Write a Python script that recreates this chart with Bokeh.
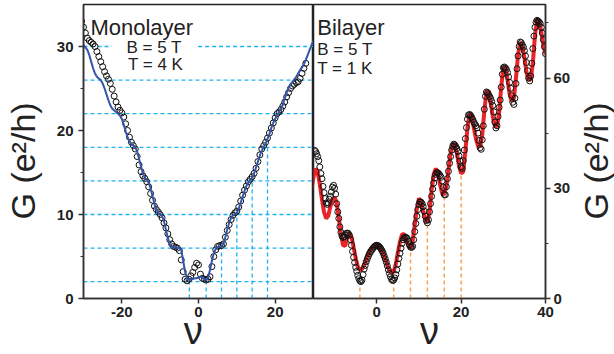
import math
from bokeh.plotting import figure
from bokeh.layouts import row
from bokeh.models import Label, Range1d, FixedTicker
from bokeh.embed import file_html
from bokeh.resources import INLINE

# ---------------- Monolayer data ----------------
mono_nu = [-30.5, -30.0, -29.5, -29.0, -28.5, -28.0, -27.5, -27.0, -26.5, -26.0,
           -25.5, -25.0, -24.5, -24.0, -23.5, -23.0, -22.5, -22.0, -21.5, -21.0,
           -20.5, -20.0, -19.5, -19.0, -18.5, -18.0, -17.5, -17.0, -16.5, -16.0,
           -15.5, -15.0, -14.5, -14.0, -13.5, -13.0, -12.5, -12.0, -11.5, -11.0,
           -10.5, -10.0, -9.5, -9.0, -8.5, -8.0, -7.5, -7.0, -6.5, -6.0,
           -5.5, -5.0, -4.5, -4.0, -3.5, -3.0, -2.5, -2.0, -1.5, -1.0,
           -0.5, 0.0, 0.5, 1.0, 1.5, 2.0, 2.5, 3.0, 3.5, 4.0,
           4.5, 5.0, 5.5, 6.0, 6.5, 7.0, 7.5, 8.0, 8.5, 9.0,
           9.5, 10.0, 10.5, 11.0, 11.5, 12.0, 12.5, 13.0, 13.5, 14.0,
           14.5, 15.0, 15.5, 16.0, 16.5, 17.0, 17.5, 18.0, 18.5, 19.0,
           19.5, 20.0, 20.5, 21.0, 21.5, 22.0, 22.5, 23.0, 23.5, 24.0,
           24.5, 25.0, 25.5, 26.0, 26.5, 27.0, 27.5, 28.0]
mono_G = [33.0, 32.3, 31.6, 31.0, 30.7, 30.5, 30.3, 30.0, 29.4, 28.8,
          28.2, 27.6, 27.0, 26.5, 26.1, 25.6, 24.9, 24.1, 23.4, 22.8,
          22.4, 22.1, 21.6, 20.8, 20.0, 19.2, 18.6, 18.2, 17.8, 16.9,
          15.9, 15.1, 14.6, 14.3, 13.9, 13.3, 12.5, 11.7, 11.0, 10.6,
          10.3, 10.0, 9.6, 9.0, 8.4, 7.7, 7.0, 6.5, 6.2, 6.1,
          6.0, 5.7, 4.6, 3.2, 2.3, 2.1, 2.3, 2.7, 3.1, 3.7,
          4.2, 4.0, 2.9, 2.4, 2.3, 2.2, 2.3, 2.6, 3.8, 5.0,
          5.8, 6.2, 6.3, 6.3, 6.5, 7.3, 8.1, 8.8, 9.4, 9.9,
          10.2, 10.4, 10.9, 11.6, 12.3, 12.9, 13.4, 13.9, 14.2, 14.5,
          14.9, 15.5, 16.3, 17.1, 17.8, 18.2, 18.6, 19.1, 19.7, 20.3,
          20.9, 21.5, 22.0, 22.2, 22.5, 22.9, 23.4, 24.0, 24.5, 25.0,
          25.3, 25.5, 25.7, 25.8, 26.2, 26.8, 27.4, 28.0]

mono_fit_nu = [-30.5, -30.0, -29.5, -29.0, -28.5, -28.0, -27.5, -27.0, -26.5, -26.0,
               -25.5, -25.0, -24.5, -24.0, -23.5, -23.0, -22.5, -22.0, -21.5, -21.0,
               -20.5, -20.0, -19.5, -19.0, -18.5, -18.0, -17.5, -17.0, -16.5, -16.0,
               -15.5, -15.0, -14.5, -14.0, -13.5, -13.0, -12.5, -12.0, -11.5, -11.0,
               -10.5, -10.0, -9.5, -9.0, -8.5, -8.0, -7.5, -7.0, -6.5, -6.0,
               -5.5, -5.0, -4.5, -4.0, -3.5, -3.0, -2.5, -2.0, -1.5, -1.0,
               -0.5, 0.0, 0.5, 1.0, 1.5, 2.0, 2.5, 3.0, 3.5, 4.0,
               4.5, 5.0, 5.5, 6.0, 6.5, 7.0, 7.5, 8.0, 8.5, 9.0,
               9.5, 10.0, 10.5, 11.0, 11.5, 12.0, 12.5, 13.0, 13.5, 14.0,
               14.5, 15.0, 15.5, 16.0, 16.5, 17.0, 17.5, 18.0, 18.5, 19.0,
               19.5, 20.0, 20.5, 21.0, 21.5, 22.0, 22.5, 23.0, 23.5, 24.0,
               24.5, 25.0, 25.5, 26.0, 26.5, 27.0, 27.5, 28.0, 28.5, 29.0,
               29.5, 30.0]
mono_fit_G = [30.5, 30.2, 29.9, 29.6, 29.0, 28.2, 27.4, 26.8, 26.4, 26.2,
              26.0, 25.6, 25.0, 24.3, 23.6, 23.0, 22.6, 22.4, 22.2, 22.0,
              21.8, 21.4, 20.7, 19.9, 19.2, 18.7, 18.4, 18.2, 18.0, 17.5,
              16.6, 15.7, 14.9, 14.4, 14.1, 13.8, 13.1, 12.2, 11.3, 10.6,
              10.2, 10.0, 9.8, 9.2, 8.2, 7.2, 6.5, 6.2, 6.1, 6.1,
              6.0, 6.0, 5.8, 4.5, 3.2, 2.4, 2.2, 2.3, 2.3, 2.4,
              2.4, 2.5, 2.6, 2.5, 2.3, 2.2, 2.5, 3.4, 4.5, 5.4,
              5.9, 6.1, 6.2, 6.2, 6.5, 7.3, 8.2, 9.0, 9.6, 9.9,
              10.1, 10.2, 10.7, 11.4, 12.1, 12.8, 13.4, 13.8, 14.1, 14.4,
              14.9, 15.6, 16.3, 17.0, 17.6, 18.0, 18.4, 19.0, 19.6, 20.3,
              20.9, 21.4, 21.8, 22.2, 22.6, 23.1, 23.8, 24.5, 25.1, 25.5,
              25.8, 26.1, 26.4, 26.8, 27.2, 27.5, 27.9, 28.4, 29.0, 29.6,
              30.2, 30.7]

# reference lines (monolayer)
mono_h_level = [2, 6, 10, 14, 18, 22, 26, 30, 30]
mono_h_from = [-30, -30, -30, -30, -30, -30, -30, -30, -0.1]
mono_h_to = [30, 30, 30, 30, 30, 30, 30, -22.6, 30]
mono_v_nu = [-2.4, 2, 6, 10, 14, 18]
mono_v_top = [2, 2, 6, 10, 14, 18]

# ---------------- Bilayer data ----------------
bi_nu = [-14.75, -14.5, -14.25, -14.0, -13.75, -13.5, -13.25, -13.0, -12.75, -12.5,
         -12.25, -12.0, -11.75, -11.5, -11.25, -11.0, -10.75, -10.5, -10.25, -10.0,
         -9.75, -9.5, -9.25, -9.0, -8.75, -8.5, -8.25, -8.0, -7.75, -7.5,
         -7.25, -7.0, -6.75, -6.5, -6.25, -6.0, -5.75, -5.5, -5.25, -5.0,
         -4.75, -4.5, -4.25, -4.0, -3.75, -3.5, -3.25, -3.0, -2.75, -2.5,
         -2.25, -2.0, -1.75, -1.5, -1.25, -1.0, -0.75, -0.5, -0.25, 0.0,
         0.25, 0.5, 0.75, 1.0, 1.25, 1.5, 1.75, 2.0, 2.25, 2.5,
         2.75, 3.0, 3.25, 3.5, 3.75, 4.0, 4.25, 4.5, 4.75, 5.0,
         5.25, 5.5, 5.75, 6.0, 6.25, 6.5, 6.75, 7.0, 7.25, 7.5,
         7.75, 8.0, 8.25, 8.5, 8.75, 9.0, 9.25, 9.5, 9.75, 10.0,
         10.25, 10.5, 10.75, 11.0, 11.25, 11.5, 11.75, 12.0, 12.25, 12.5,
         12.75, 13.0, 13.25, 13.5, 13.75, 14.0, 14.25, 14.5, 14.75, 15.0,
         15.25, 15.5, 15.75, 16.0, 16.25, 16.5, 16.75, 17.0, 17.25, 17.5,
         17.75, 18.0, 18.25, 18.5, 18.75, 19.0, 19.25, 19.5, 19.75, 20.0,
         20.25, 20.5, 20.75, 21.0, 21.25, 21.5, 21.75, 22.0, 22.25, 22.5,
         22.75, 23.0, 23.25, 23.5, 23.75, 24.0, 24.25, 24.5, 24.75, 25.0,
         25.25, 25.5, 25.75, 26.0, 26.25, 26.5, 26.75, 27.0, 27.25, 27.5,
         27.75, 28.0, 28.25, 28.5, 28.75, 29.0, 29.25, 29.5, 29.75, 30.0,
         30.25, 30.5, 30.75, 31.0, 31.25, 31.5, 31.75, 32.0, 32.25, 32.5,
         32.75, 33.0, 33.25, 33.5, 33.75, 34.0, 34.25, 34.5, 34.75, 35.0,
         35.25, 35.5, 35.75, 36.0, 36.25, 36.5, 36.75, 37.0, 37.25, 37.5,
         37.75, 38.0, 38.25, 38.5, 38.75, 39.0, 39.25, 39.5, 39.75, 40.0]
bi_G = [40.3, 40.0, 39.4, 38.6, 37.5, 35.8, 34.0, 32.6, 30.5, 28.8,
        27.2, 26.0, 25.6, 26.0, 27.0, 27.8, 29.0, 30.3, 30.8, 30.0,
        28.4, 25.8, 23.6, 21.8, 19.5, 18.0, 17.0, 16.6, 16.8, 17.3,
        17.7, 17.8, 17.7, 17.2, 16.0, 14.5, 12.8, 11.2, 9.8, 8.5,
        7.4, 6.3, 5.4, 4.8, 4.6, 5.0, 6.5, 8.0, 9.0, 10.0,
        10.8, 11.5, 12.2, 12.7, 13.1, 13.5, 13.9, 14.2, 14.4, 14.5,
        14.4, 14.2, 13.9, 13.5, 13.0, 12.4, 11.6, 10.8, 9.9, 8.9,
        7.8, 6.8, 5.9, 5.2, 4.9, 5.0, 5.6, 6.5, 7.8, 9.4,
        10.9, 12.3, 13.7, 15.0, 16.0, 16.5, 16.7, 16.6, 16.3, 15.6,
        14.6, 14.0, 13.9, 14.2, 16.0, 18.2, 20.4, 22.4, 24.2, 25.6,
        26.3, 26.2, 25.8, 25.0, 23.8, 22.4, 21.2, 20.6, 21.4, 23.6,
        25.8, 27.8, 29.8, 31.4, 32.8, 33.8, 34.3, 34.2, 33.9, 33.5,
        33.0, 32.0, 30.2, 28.3, 28.2, 30.4, 32.6, 34.6, 36.8, 38.6,
        40.4, 41.4, 42.0, 41.8, 41.3, 40.8, 40.0, 38.8, 37.4, 35.8,
        35.4, 37.5, 40.4, 43.5, 46.5, 48.8, 49.9, 50.1, 49.8, 49.3,
        48.7, 48.0, 47.5, 47.0, 46.4, 45.0, 43.0, 41.0, 40.6, 43.2,
        47.0, 51.5, 55.0, 56.2, 56.0, 55.5, 55.0, 54.4, 53.6, 52.5,
        50.8, 48.0, 46.4, 47.0, 49.5, 52.0, 54.0, 57.5, 61.0, 62.8,
        63.0, 62.7, 62.3, 61.5, 60.3, 58.8, 57.2, 55.2, 53.4, 52.8,
        54.5, 58.5, 62.5, 66.0, 68.6, 69.8, 69.6, 69.0, 68.4, 67.4,
        66.0, 64.2, 62.0, 60.0, 59.2, 60.5, 64.0, 68.0, 71.4, 73.8,
        75.2, 75.7, 75.5, 75.2, 74.8, 73.8, 72.2, 70.4, 68.5, 66.6]

bi_fit_nu = [-15.5, -15.0, -14.5, -14.0, -13.5, -13.0, -12.5, -12.0, -11.5, -11.0,
             -10.5, -10.0, -9.5, -9.0, -8.5, -8.0, -7.5, -7.0, -6.5, -6.0,
             -5.5, -5.0, -4.5, -4.0, -3.5, -3.0, -2.5, -2.0, -1.5, -1.0,
             -0.5, 0.0, 0.5, 1.0, 1.5, 2.0, 2.5, 3.0, 3.5, 4.0,
             4.5, 5.0, 5.5, 6.0, 6.5, 7.0, 7.5, 8.0, 8.5, 9.0,
             9.5, 10.0, 10.5, 11.0, 11.5, 12.0, 12.5, 13.0, 13.5, 14.0,
             14.5, 15.0, 15.5, 16.0, 16.5, 17.0, 17.5, 18.0, 18.5, 19.0,
             19.5, 20.0, 20.5, 21.0, 21.5, 22.0, 22.5, 23.0, 23.5, 24.0,
             24.5, 25.0, 25.5, 26.0, 26.5, 27.0, 27.5, 28.0, 28.5, 29.0,
             29.5, 30.0, 30.5, 31.0, 31.5, 32.0, 32.5, 33.0, 33.5, 34.0,
             34.5, 35.0, 35.5, 36.0, 36.5, 37.0, 37.5, 38.0, 38.5, 39.0,
             39.5, 40.0]
bi_fit_G = [29.5, 33.0, 35.3, 34.5, 31.0, 27.0, 23.5, 21.8, 22.5, 25.0,
            27.0, 27.6, 26.0, 22.0, 17.5, 14.5, 14.3, 16.5, 17.7, 16.8,
            14.0, 11.0, 8.6, 7.7, 8.0, 9.2, 10.6, 12.0, 13.2, 14.0,
            14.4, 14.5, 14.3, 13.6, 12.4, 10.8, 9.0, 7.6, 6.9, 7.3,
            9.3, 12.5, 15.5, 17.5, 17.5, 16.0, 14.3, 13.6, 15.5, 20.0,
            24.5, 27.2, 26.5, 23.8, 21.5, 20.8, 23.5, 29.5, 33.8, 35.4,
            34.0, 31.0, 28.6, 28.3, 30.5, 35.0, 39.5, 42.0, 42.0, 39.5,
            36.0, 34.0, 34.5, 40.0, 46.5, 50.3, 49.5, 46.5, 43.5, 41.5,
            41.2, 44.5, 51.0, 56.3, 56.5, 53.5, 49.5, 47.0, 46.8, 50.5,
            57.5, 63.0, 62.8, 59.5, 55.5, 53.6, 54.5, 60.0, 66.5, 69.8,
            68.8, 65.5, 61.5, 59.5, 59.6, 64.0, 71.5, 76.0, 75.5, 72.5,
            69.0, 66.5]

bi_v_nu = [-4, 4, 8, 12, 16, 20]
bi_v_top = [4.5, 5.4, 12.7, 20.8, 28.1, 34.4]

FONT = "Liberation Sans"
INK = "#222222"
G_LABEL = "G (e²/h)\u00a0\u00a0"


def style_axis(ax):
    ax.major_label_text_font = FONT
    ax.major_label_text_font_style = "bold"
    ax.major_label_text_font_size = "15px"
    ax.major_label_text_color = INK
    ax.axis_line_color = "#333333"
    ax.axis_line_width = 1.5
    ax.major_tick_line_color = "#333333"
    ax.major_tick_line_width = 1.5
    ax.minor_tick_line_color = "#333333"
    ax.minor_tick_line_width = 1
    ax.major_tick_out = 5
    ax.major_tick_in = 0
    ax.minor_tick_out = 3
    ax.minor_tick_in = 0
    ax.major_label_standoff = 3
    ax.axis_label_text_font = FONT
    ax.axis_label_text_font_style = "normal"
    ax.axis_label_text_color = INK


def style_frame(p):
    p.xgrid.visible = False
    p.ygrid.visible = False
    p.outline_line_color = INK
    p.outline_line_width = 1.5
    style_axis(p.xaxis[0])
    style_axis(p.yaxis[0])
    p.xaxis[0].axis_label_text_font_size = "38px"
    p.xaxis[0].axis_label_standoff = -10


# ---------------- Left: Monolayer ----------------
p1 = figure(width=313, height=354, x_range=Range1d(-30, 30), y_range=Range1d(0, 35),
            output_backend="svg", toolbar_location=None, title=None,
            min_border_left=81, min_border_right=0, min_border_top=4, min_border_bottom=56)
style_frame(p1)
p1.xaxis[0].ticker = FixedTicker(ticks=[-20, 0, 20], minor_ticks=[])
p1.xaxis[0].major_label_overrides = {-20: "-20", 0: "0", 20: "20"}
p1.xaxis[0].axis_label = "ν\u00a0"
p1.yaxis[0].ticker = FixedTicker(ticks=[0, 10, 20, 30], minor_ticks=[5, 15, 25])
p1.yaxis[0].major_label_standoff = 5
p1.yaxis[0].axis_label = G_LABEL
p1.yaxis[0].axis_label_text_font_size = "34px"
p1.yaxis[0].axis_label_standoff = 12

CYAN = "#1fb2ee"
p1.segment(x0=mono_h_from, y0=mono_h_level, x1=mono_h_to, y1=mono_h_level,
           line_color=CYAN, line_width=1.3, line_dash="4 3")
p1.segment(x0=mono_v_nu, y0=[0] * len(mono_v_nu), x1=mono_v_nu, y1=mono_v_top,
           line_color=CYAN, line_width=1.3, line_dash="4 3")
p1.scatter(mono_nu, mono_G, marker="circle", size=6, fill_alpha=0,
           line_color="#111111", line_width=1)
p1.line(mono_fit_nu, mono_fit_G, line_color="#3355aa", line_width=2)

p1.add_layout(Label(x=-28.2, y=32.3, text="Monolayer", text_font=FONT,
                    text_font_size="22px", text_color=INK, text_baseline="alphabetic"))
p1.add_layout(Label(x=-18.8, y=29.9, text="B = 5 T", text_font=FONT,
                    text_font_size="17px", text_color=INK, text_baseline="alphabetic"))
p1.add_layout(Label(x=-18.4, y=27.8, text="T = 4 K", text_font=FONT,
                    text_font_size="17px", text_color=INK, text_baseline="alphabetic"))

# ---------------- Right: Bilayer ----------------
p2 = figure(width=262, height=354, x_range=Range1d(-15, 40), y_range=Range1d(0, 80),
            y_axis_location="right",
            output_backend="svg", toolbar_location=None, title=None,
            min_border_left=0, min_border_right=30, min_border_top=4, min_border_bottom=56)
style_frame(p2)
p2.xaxis[0].ticker = FixedTicker(ticks=[0, 20, 40], minor_ticks=[])
p2.xaxis[0].axis_label = "ν"
p2.yaxis[0].ticker = FixedTicker(ticks=[0, 30, 60], minor_ticks=[15, 45, 75])

ORANGE = "#f4a25a"
p2.segment(x0=bi_v_nu, y0=[0] * len(bi_v_nu), x1=bi_v_nu, y1=bi_v_top,
           line_color=ORANGE, line_width=1.5, line_dash="4 3")
p2.line(bi_fit_nu, bi_fit_G, line_color="#e8262a", line_width=4)
p2.scatter(bi_nu, bi_G, marker="circle", size=6, fill_alpha=0,
           line_color="#111111", line_width=1)

p2.add_layout(Label(x=-14.1, y=73.8, text="Bilayer", text_font=FONT,
                    text_font_size="22px", text_color=INK, text_baseline="alphabetic"))
p2.add_layout(Label(x=-14.1, y=67.8, text="B = 5 T", text_font=FONT,
                    text_font_size="17px", text_color=INK, text_baseline="alphabetic"))
p2.add_layout(Label(x=-14.1, y=62.6, text="T = 1 K", text_font=FONT,
                    text_font_size="17px", text_color=INK, text_baseline="alphabetic"))

# ---------------- Right-hand axis title (reads bottom to top) ----------------
p3 = figure(width=39, height=354, x_range=Range1d(0, 1), y_range=Range1d(0, 80),
            x_axis_location=None, y_axis_location="left",
            output_backend="svg", toolbar_location=None, title=None,
            min_border_left=37, min_border_right=0, min_border_top=4, min_border_bottom=56)
p3.xgrid.visible = False
p3.ygrid.visible = False
p3.outline_line_color = None
style_axis(p3.yaxis[0])
p3.yaxis[0].ticker = FixedTicker(ticks=[], minor_ticks=[])
p3.yaxis[0].axis_line_color = None
p3.yaxis[0].major_tick_out = 0
p3.yaxis[0].minor_tick_out = 0
p3.yaxis[0].major_label_standoff = 0
p3.yaxis[0].axis_label = G_LABEL
p3.yaxis[0].axis_label_text_font_size = "34px"
p3.yaxis[0].axis_label_standoff = 0

layout = row(p1, p2, p3)
open("out.html", "w").write(file_html(layout, INLINE))
